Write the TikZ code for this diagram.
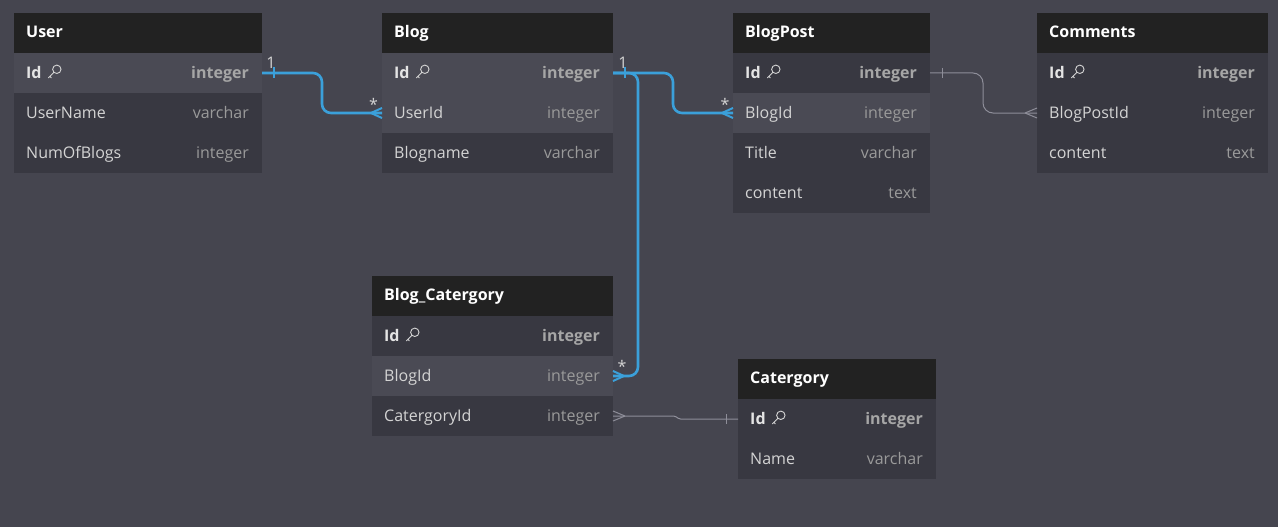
\documentclass[tikz,border=0pt]{standalone}
\usepackage{fontspec}
\setmainfont{Open Sans}
\usetikzlibrary{calc}
\definecolor{bg}{HTML}{45454F}
\definecolor{hdr}{HTML}{222222}
\definecolor{rowd}{HTML}{383841}
\definecolor{rowl}{HTML}{4A4A54}
\definecolor{fieldc}{HTML}{D4D4D4}
\definecolor{keyc}{HTML}{E4E4E4}
\definecolor{typec}{HTML}{9A9A9A}
\definecolor{typek}{HTML}{A6A6A6}
\definecolor{relblue}{HTML}{3BA0DA}
\definecolor{relgray}{HTML}{8E8E99}
\tikzset{
  hdrbox/.style={fill=hdr, draw=none, minimum height=40pt, inner sep=0pt, outer sep=0pt, anchor=north west},
  rowbox/.style={draw=none, minimum height=40pt, inner sep=0pt, outer sep=0pt, anchor=north west},
  titletext/.style={text=white, font=\fontsize{16}{19}\selectfont\bfseries, inner sep=0pt, anchor=base west},
  fieldtext/.style={text=fieldc, font=\fontsize{16}{19}\selectfont, inner sep=0pt, anchor=base west},
  keytext/.style={text=keyc, font=\fontsize{16}{19}\selectfont\bfseries, inner sep=0pt, anchor=base west},
  typetext/.style={text=typec, font=\fontsize{16}{19}\selectfont, inner sep=0pt, anchor=base east},
  typekey/.style={text=typek, font=\fontsize{16}{19}\selectfont\bfseries, inner sep=0pt, anchor=base east},
  bluerel/.style={draw=relblue, line width=2.6pt, rounded corners=9pt},
  bluemark/.style={draw=relblue, line width=2pt},
  grayrel/.style={draw=relgray, line width=1pt, rounded corners=10pt},
  graymark/.style={draw=relgray, line width=1pt},
  card/.style={text=fieldc, font=\fontsize{16}{19}\selectfont, inner sep=0pt},
  keyicon/.pic={
    \draw[fieldc, line width=0.9pt] (9pt,3.2pt) circle (4.2pt);
    \draw[fieldc, line width=0.9pt, line cap=round] (6pt,0.2pt) -- (0.6pt,-5.4pt) (2.1pt,-3.9pt) -- (3.6pt,-5.4pt);
  }
}
\newcommand\ertitle[5]{%
  \node[hdrbox, minimum width=#4] (#1) at (#2,#3) {};
  \node[titletext] (#1-t) at ([xshift=12pt,yshift=-4.5pt]#1.west) {#5};}
\newcommand\errow[7]{%
  \node[rowbox, fill=#5, minimum width=#4] (#1) at (#2,#3) {};
  \node[fieldtext] (#1-f) at ([xshift=12pt,yshift=-5pt]#1.west) {#6};
  \node[typetext] (#1-ty) at ([xshift=-13pt,yshift=-5pt]#1.east) {#7};}
\newcommand\erkey[6]{%
  \node[rowbox, fill=#5, minimum width=#4] (#1) at (#2,#3) {};
  \node[keytext] (#1-f) at ([xshift=12pt,yshift=-5pt]#1.west) {Id};
  \node[typekey] (#1-ty) at ([xshift=-13pt,yshift=-5pt]#1.east) {#6};
  \coordinate (#1-k) at (#1-f.east |- #1.west);
  \pic at ([xshift=6pt,yshift=0.5pt]#1-k) {keyicon};}
\begin{document}
\begin{tikzpicture}[x=1pt,y=-1pt]
\path[use as bounding box, fill=bg] (0,0) rectangle (1278,527);

% User
\ertitle{user}{14}{13}{248pt}{User}
\erkey{user-id}{14}{53}{248pt}{rowl}{integer}
\errow{user-name}{14}{93}{248pt}{rowd}{UserName}{varchar}
\errow{user-num}{14}{133}{248pt}{rowd}{NumOfBlogs}{integer}

% Blog
\ertitle{blog}{382}{13}{231pt}{Blog}
\erkey{blog-id}{382}{53}{231pt}{rowl}{integer}
\errow{blog-userid}{382}{93}{231pt}{rowl}{UserId}{integer}
\errow{blog-name}{382}{133}{231pt}{rowd}{Blogname}{varchar}

% BlogPost
\ertitle{blogpost}{733}{13}{197pt}{BlogPost}
\erkey{blogpost-id}{733}{53}{197pt}{rowd}{integer}
\errow{blogpost-blogid}{733}{93}{197pt}{rowl}{BlogId}{integer}
\errow{blogpost-title}{733}{133}{197pt}{rowd}{Title}{varchar}
\errow{blogpost-content}{733}{173}{197pt}{rowd}{content}{text}

% Comments
\ertitle{comments}{1037}{13}{231pt}{Comments}
\erkey{comments-id}{1037}{53}{231pt}{rowd}{integer}
\errow{comments-bpid}{1037}{93}{231pt}{rowd}{BlogPostId}{integer}
\errow{comments-content}{1037}{133}{231pt}{rowd}{content}{text}

% Blog_Catergory
\ertitle{blogcat}{372}{276}{241pt}{Blog\_Catergory}
\erkey{blogcat-id}{372}{316}{241pt}{rowd}{integer}
\errow{blogcat-blogid}{372}{356}{241pt}{rowl}{BlogId}{integer}
\errow{blogcat-catid}{372}{396}{241pt}{rowd}{CatergoryId}{integer}

% Catergory
\ertitle{cat}{738}{359}{198pt}{Catergory}
\erkey{cat-id}{738}{399}{198pt}{rowd}{integer}
\errow{cat-name}{738}{439}{198pt}{rowd}{Name}{varchar}

% User.Id -> Blog.UserId
\draw[bluerel] (user-id.east) -- ([xshift=60pt]user-id.east) |- (blog-userid.west);
\draw[bluemark] ([xshift=12pt,yshift=5.5pt]user-id.east) -- ([xshift=12pt,yshift=-5.5pt]user-id.east);
\draw[bluemark] ([xshift=-11pt]blog-userid.west) -- ([yshift=5pt]blog-userid.west)
  ([xshift=-11pt]blog-userid.west) -- ([yshift=-5pt]blog-userid.west);
\node[card] (c1a) at (271,63) {1};
\node[card] (c1b) at (373.5,104) {*};

% Blog.Id -> BlogPost.BlogId
\draw[bluerel] (blog-id.east) -- ([xshift=60pt]blog-id.east) |- (blogpost-blogid.west);
% Blog.Id -> Blog_Catergory.BlogId
\draw[bluerel] (blog-id.east) -- ([xshift=25pt]blog-id.east) |- (blogcat-blogid.east);
\draw[bluemark] ([xshift=12pt,yshift=5.5pt]blog-id.east) -- ([xshift=12pt,yshift=-5.5pt]blog-id.east);
\draw[bluemark] ([xshift=-11pt]blogpost-blogid.west) -- ([yshift=5pt]blogpost-blogid.west)
  ([xshift=-11pt]blogpost-blogid.west) -- ([yshift=-5pt]blogpost-blogid.west);
\draw[bluemark] ([xshift=11pt]blogcat-blogid.east) -- ([yshift=5pt]blogcat-blogid.east)
  ([xshift=11pt]blogcat-blogid.east) -- ([yshift=-5pt]blogcat-blogid.east);
\node[card] (c2a) at (623,63) {1};
\node[card] (c2b) at (725,104) {*};
\node[card] (c3b) at (622,366) {*};

% BlogPost.Id -> Comments.BlogPostId
\draw[grayrel] (blogpost-id.east) -- ([xshift=53pt]blogpost-id.east) |- (comments-bpid.west);
\draw[graymark] ([xshift=12pt,yshift=5pt]blogpost-id.east) -- ([xshift=12pt,yshift=-5pt]blogpost-id.east);
\draw[graymark] ([xshift=-12pt]comments-bpid.west) -- ([yshift=5pt]comments-bpid.west)
  ([xshift=-12pt]comments-bpid.west) -- ([yshift=-5pt]comments-bpid.west);

% Blog_Catergory.CatergoryId -> Catergory.Id
\coordinate (bend1) at ([xshift=62pt]blogcat-catid.east);
\coordinate (bend2) at ([xshift=66pt]blogcat-catid.east |- cat-id.west);
\draw[grayrel, rounded corners=1.5pt] (blogcat-catid.east) -- (bend1) -- (bend2) -- (cat-id.west);
\draw[graymark] ([xshift=12pt]blogcat-catid.east) -- ([yshift=5pt]blogcat-catid.east)
  ([xshift=12pt]blogcat-catid.east) -- ([yshift=-5pt]blogcat-catid.east);
\draw[graymark] ([xshift=-12pt,yshift=5pt]cat-id.west) -- ([xshift=-12pt,yshift=-5pt]cat-id.west);
\end{tikzpicture}
\end{document}
